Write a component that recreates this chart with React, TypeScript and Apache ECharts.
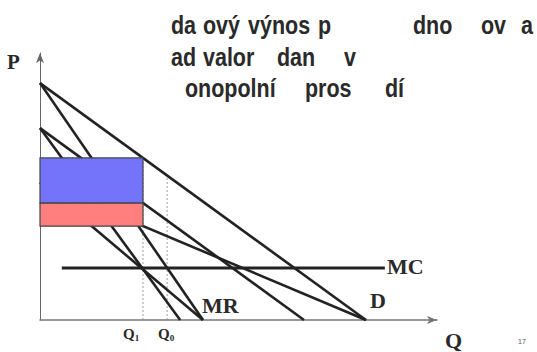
import React, { useEffect, useRef } from "react";
import * as echarts from "echarts";

// Axis extents (quantity, price)
const Q_MAX = 12.18;
const P_MAX = 11.27;

// Straight curves: each goes from (0, priceIntercept) to (quantityIntercept, 0)
const curveNames = ["D", "MR", "D unit", "MR unit", "D ad valorem", "MR ad valorem"];
const priceIntercepts = [10, 10, 8.1, 8.1, 5.8, 5.8];
const quantityIntercepts = [10, 5.0, 8.1, 4.3, 10, 5.0];

// Marginal cost
const mcLevel = 2.2;
const mcRange = [0.67, 10.58];

// Equilibrium quantities
const q1 = 3.16;
const q0 = 3.9;

// Tax revenue bands at Q1: [low price, high price]
const unitTaxBand = [4.93, 6.84];
const adValoremExtraBand = [3.96, 4.93];

// Title fragments: [text, x, y]
const titleLine1: [string, number, number][] = [
  ["da", 171, 25], ["ový", 203, 25], ["výnos", 248, 25], ["p", 318, 25],
  ["dno", 413, 25], ["ov", 481, 25], ["a", 521, 25],
];
const titleLine2: [string, number, number][] = [
  ["ad", 171, 57], ["valor", 203, 57], ["dan", 277, 57], ["v", 344, 57],
];
const titleLine3: [string, number, number][] = [
  ["onopolní", 185, 88], ["pros", 305, 88], ["dí", 385, 88],
];

const LINE_COLOR = "#222222";

export default function App() {
  const ref = useRef<HTMLDivElement>(null);

  useEffect(() => {
    document.body.style.margin = "0";
    const chart = echarts.init(ref.current!, undefined, { renderer: "svg" });

    const curveSeries = curveNames.map((name, i) => ({
      name,
      type: "line",
      data: [
        [0, priceIntercepts[i]],
        [quantityIntercepts[i], 0],
      ],
      symbol: "none",
      lineStyle: { color: LINE_COLOR, width: 2.6 },
      z: 3,
      silent: true,
    }));

    const mcSeries = {
      name: "MC",
      type: "line",
      data: [
        [mcRange[0], mcLevel],
        [mcRange[1], mcLevel],
      ],
      symbol: "none",
      lineStyle: { color: LINE_COLOR, width: 3 },
      z: 3,
      silent: true,
    };

    const dashed = (q: number) => ({
      type: "line",
      data: [
        [q, 0],
        [q, priceIntercepts[0] * (1 - q / quantityIntercepts[0])],
      ],
      symbol: "none",
      lineStyle: { color: "#888", width: 0.8, type: [2, 2] },
      z: 2,
      silent: true,
    });

    const bandSeries = {
      type: "custom",
      z: 5,
      silent: true,
      clip: false,
      data: [
        [0, q1, unitTaxBand[0], unitTaxBand[1], 0],
        [0, q1, adValoremExtraBand[0], adValoremExtraBand[1], 1],
      ],
      renderItem: (_params: any, api: any) => {
        const tl = api.coord([api.value(0), api.value(3)]);
        const br = api.coord([api.value(1), api.value(2)]);
        const fill = api.value(4) === 0 ? "#7474fb" : "#ff7f7f";
        return {
          type: "rect",
          shape: { x: tl[0], y: tl[1], width: br[0] - tl[0], height: br[1] - tl[1] },
          style: { fill, stroke: "#444", lineWidth: 1.2 },
        };
      },
    };

    const titleText = (parts: [string, number, number][]) =>
      parts.map(([t, x, y]) => ({
        type: "text",
        x,
        y,
        scaleX: 0.86,
        style: {
          text: t,
          fill: "#2a2a2a",
          font: "bold 25px 'Liberation Sans', Arial, sans-serif",
          textVerticalAlign: "middle",
        },
      }));

    const serifLabel = (t: string, x: number, y: number, size: number) => ({
      type: "text",
      x,
      y,
      style: {
        text: t,
        fill: "#2a2a2a",
        font: `bold ${size}px 'Liberation Serif', 'Times New Roman', serif`,
        textVerticalAlign: "middle",
      },
    });

    const qLabel = (sub: string, x: number) => ({
      type: "text",
      x,
      y: 334,
      style: {
        text: `{q|Q}{s|${sub}}`,
        textVerticalAlign: "middle",
        rich: {
          q: { font: "bold 15px 'Liberation Serif', serif", fill: "#2a2a2a" },
          s: { font: "bold 9px 'Liberation Serif', serif", fill: "#2a2a2a", padding: [8, 0, 0, 0] },
        },
      },
    });

    chart.setOption({
      animation: false,
      grid: { left: 40, top: 53, width: 397, height: 267 },
      xAxis: {
        type: "value",
        min: 0,
        max: Q_MAX,
        axisLine: {
          show: true,
          lineStyle: { color: "#777", width: 1.5 },
          symbol: ["none", "arrow"],
          symbolSize: [6, 10],
        },
        axisTick: { show: false },
        axisLabel: { show: false },
        splitLine: { show: false },
      },
      yAxis: {
        type: "value",
        min: 0,
        max: P_MAX,
        axisLine: {
          show: true,
          lineStyle: { color: "#666", width: 1 },
          symbol: ["none", "arrow"],
          symbolSize: [6, 10],
        },
        axisTick: { show: false },
        axisLabel: { show: false },
        splitLine: { show: false },
      },
      series: [...curveSeries, mcSeries, dashed(q1), dashed(q0), bandSeries],
      graphic: [
        ...titleText(titleLine1),
        ...titleText(titleLine2),
        ...titleText(titleLine3),
        serifLabel("P", 7, 62, 21),
        serifLabel("Q", 445, 340, 22),
        serifLabel("MC", 387, 266, 22),
        serifLabel("D", 370, 300, 22),
        serifLabel("MR", 202, 305, 22),
        qLabel("1", 123),
        qLabel("0", 158),
        {
          type: "text",
          x: 518,
          y: 338,
          style: { text: "17", fill: "#555", font: "7px 'Liberation Sans', sans-serif" },
        },
      ],
    });

    return () => chart.dispose();
  }, []);

  return <div ref={ref} style={{ width: 537, height: 352 }} />;
}
